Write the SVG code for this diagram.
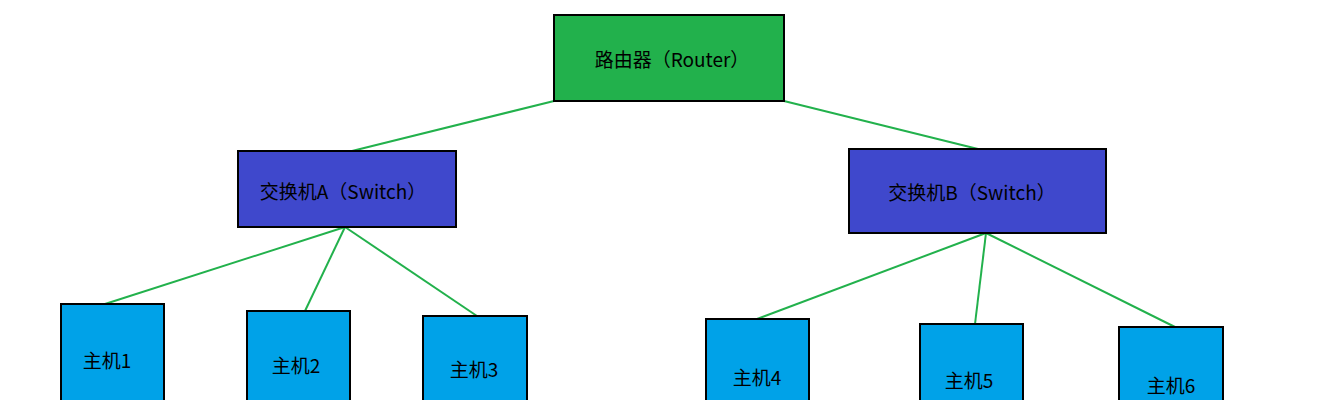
<svg xmlns="http://www.w3.org/2000/svg" width="1318" height="400" viewBox="0 0 1318 400">
<style>
.r{fill:#22b14c;stroke:#000;stroke-width:2}
.s{fill:#3f48cc;stroke:#000;stroke-width:2}
.h{fill:#00a2e8;stroke:#000;stroke-width:2}
.l{stroke:#22b14c;stroke-width:2;fill:none}
text{font-family:"Noto Sans CJK SC","Noto Sans",sans-serif;font-size:19px;fill:#000;text-anchor:middle;dominant-baseline:central}
</style>
<rect width="1318" height="400" fill="#fff"/>
<g id="connectors">
<line class="l" x1="554" y1="101" x2="352" y2="151"/>
<line class="l" x1="784" y1="101" x2="978" y2="149"/>
<line class="l" x1="345" y1="227" x2="105" y2="304"/>
<line class="l" x1="345" y1="227" x2="305" y2="311"/>
<line class="l" x1="345" y1="227" x2="477" y2="316"/>
<line class="l" x1="986" y1="233" x2="757" y2="319"/>
<line class="l" x1="986" y1="233" x2="975" y2="324"/>
<line class="l" x1="986" y1="233" x2="1175" y2="327"/>
</g>
<g id="router"><rect class="r" x="554" y="15" width="230" height="86"/><text x="672" y="58">路由器（Router）</text></g>
<g id="switchA"><rect class="s" x="238" y="151" width="218" height="76"/><text x="343" y="190">交换机A（Switch）</text></g>
<g id="switchB"><rect class="s" x="849" y="149" width="257" height="84"/><text x="972" y="191">交换机B（Switch）</text></g>
<g id="host1"><rect class="h" x="61" y="304" width="103" height="110"/><text x="107" y="359">主机1</text></g>
<g id="host2"><rect class="h" x="247" y="311" width="103" height="100"/><text x="296" y="364">主机2</text></g>
<g id="host3"><rect class="h" x="423" y="316" width="104" height="100"/><text x="474" y="368">主机3</text></g>
<g id="host4"><rect class="h" x="706" y="319" width="103" height="100"/><text x="757" y="376">主机4</text></g>
<g id="host5"><rect class="h" x="920" y="324" width="103" height="100"/><text x="969" y="379">主机5</text></g>
<g id="host6"><rect class="h" x="1119" y="327" width="104" height="100"/><text x="1171" y="384">主机6</text></g>
</svg>
